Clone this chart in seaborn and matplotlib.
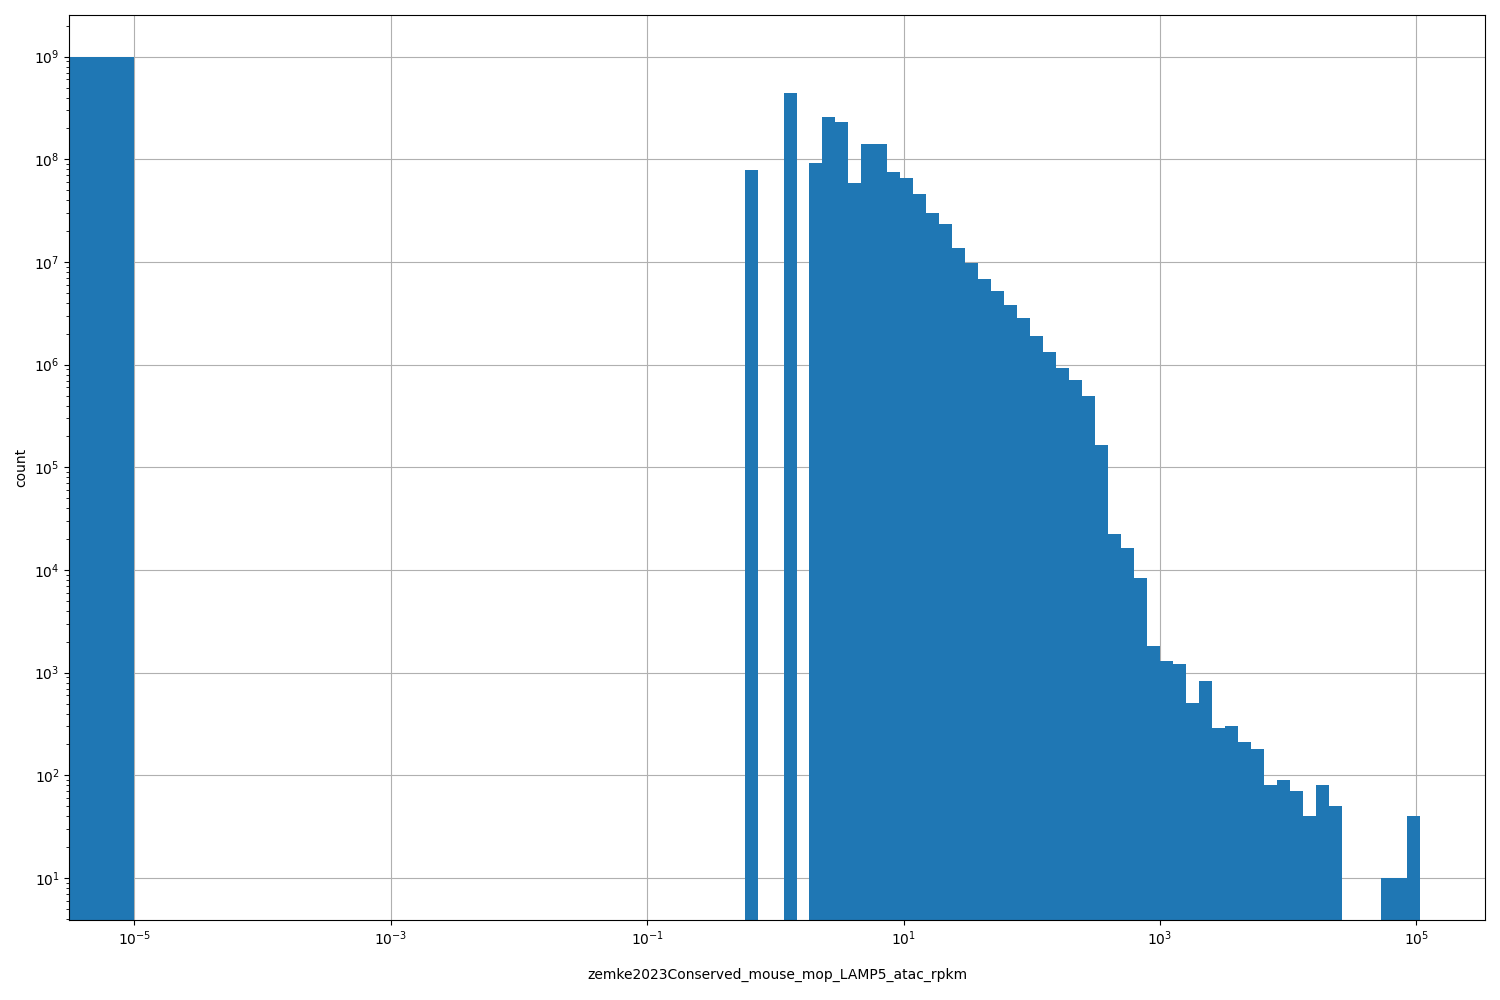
#!/usr/bin/env python3
import numpy as np
import pandas as pd
import matplotlib
matplotlib.use("Agg")
import matplotlib.pyplot as plt
import matplotlib.ticker as mticker
import seaborn as sns

# zero bin (values below 1e-5) and the log-spaced bins above it
zero_bin = [1e-7, 1e-5]
zero_count = 1.0e9
log_min, log_max, n_bins = -0.240, 5.029, 52

# counts per log bin
counts = [
    7.9e7, 0, 0, 4.4e8, 0, 9.2e7, 2.6e8, 2.3e8, 5.9e7, 1.41e8,
    1.41e8, 7.5e7, 6.6e7, 4.6e7, 3.0e7, 2.35e7, 1.37e7, 9.8e6, 6.9e6, 5.2e6,
    3.8e6, 2.86e6, 1.9e6, 1.33e6, 9.3e5, 7.1e5, 4.9e5, 1.66e5, 2.25e4, 1.64e4,
    8400, 1830, 1310, 1220, 510, 830, 290, 300, 210, 180,
    80, 90, 70, 40, 80, 50, 0, 0, 0, 10,
    10, 40,
]

x_ticks = [1e-5, 1e-3, 1e-1, 1e1, 1e3, 1e5]
label = "zemke2023Conserved_mouse_mop_LAMP5_atac_rpkm"


def build_frame():
    edges = np.logspace(log_min, log_max, n_bins + 1)
    centers = np.sqrt(edges[:-1] * edges[1:])
    x = np.concatenate([[np.sqrt(zero_bin[0] * zero_bin[1])], centers])
    w = np.concatenate([[zero_count], counts])
    df = pd.DataFrame({"value": x, "count": w})
    # seaborn compares bins to "auto", so hand it a plain list
    bins = list(zero_bin) + edges.tolist()
    return df, bins


def main():
    df, bins = build_frame()

    fig, ax = plt.subplots(figsize=(15, 10), dpi=100)
    fig.subplots_adjust(left=0.0462, right=0.9902, top=0.9847, bottom=0.08)

    sns.histplot(data=df, x="value", weights="count", bins=bins, ax=ax,
                 color="#1f77b4", alpha=1, linewidth=0, stat="count")

    ax.set_xscale("log")
    ax.set_yscale("log")
    ax.set_xlim(10 ** -5.507, 10 ** 5.538)
    ax.set_ylim(3.9, 2.53e9)
    ax.xaxis.set_major_locator(mticker.FixedLocator(x_ticks))
    ax.xaxis.set_minor_locator(mticker.NullLocator())
    ax.grid(True, color="#b0b0b0", linewidth=0.8)
    ax.set_axisbelow(True)
    ax.set_xlabel(label, labelpad=14)
    ax.set_ylabel("count")

    fig.savefig("out.png", dpi=100)


if __name__ == "__main__":
    main()
